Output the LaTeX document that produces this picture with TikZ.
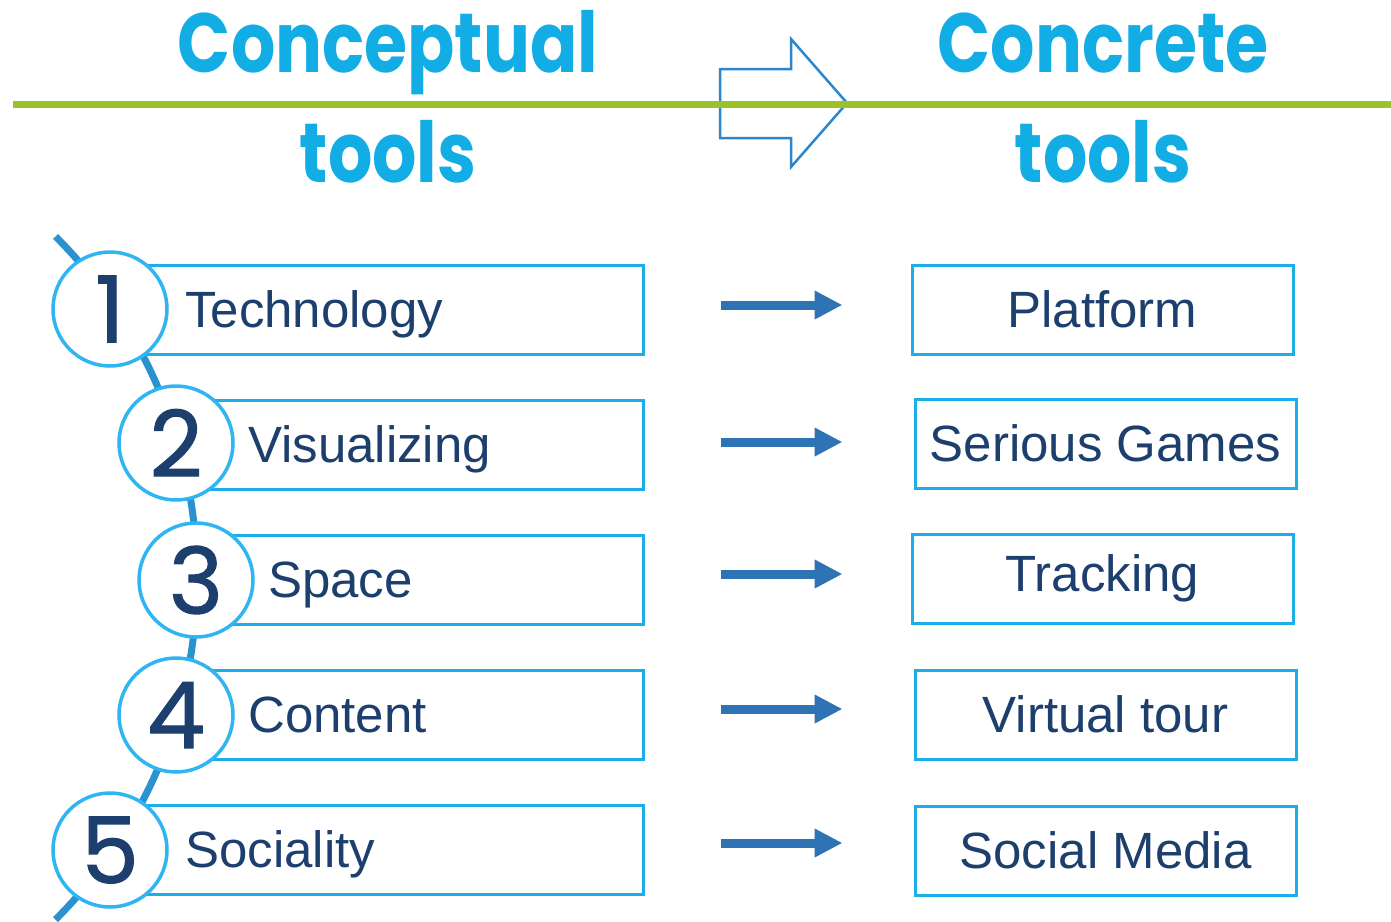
\documentclass[tikz,border=0pt]{standalone}
\usepackage{fontspec}
\usepackage{graphicx}
\setmainfont{Liberation Sans}
\newfontfamily\titlefont{Poppins}
\newfontfamily\numfont{Poppins}[FakeBold=1.2]
\usetikzlibrary{arrows.meta}
\definecolor{titlecyan}{HTML}{12ADE5}
\definecolor{linegreen}{HTML}{9BC22A}
\definecolor{hdrarrow}{HTML}{2B86CC}
\definecolor{boxline}{HTML}{1CAEE8}
\definecolor{circline}{HTML}{2FB6F2}
\definecolor{arcblue}{HTML}{2A93CF}
\definecolor{navy}{HTML}{1C3F6E}
\definecolor{arrblue}{HTML}{2E74B5}
\newcommand{\ttl}[1]{\scalebox{0.83}[1]{#1}}
\tikzset{
  titletext/.style={font=\titlefont\bfseries\fontsize{84}{84}\selectfont, text=titlecyan, anchor=base, inner sep=0},
  lbox/.style={draw=boxline, line width=3pt, fill=white, minimum height=89pt, inner sep=0, outer sep=0, anchor=east},
  rbox/.style={draw=boxline, line width=3pt, fill=white, minimum height=89pt, minimum width=381pt, inner sep=0,
    font=\fontsize{51}{51}\selectfont, text=navy},
  numcirc/.style={circle, draw=circline, line width=3.5pt, fill=white, minimum size=114pt, inner sep=0,
    font=\numfont\fontsize{92}{92}\selectfont, text=navy},
  ltext/.style={font=\fontsize{51}{51}\selectfont, text=navy, anchor=base west, inner sep=0},
  conn/.style={draw=arrblue, line width=9pt, -{Triangle[length=28pt, width=27pt]}},
}
\begin{document}
\begin{tikzpicture}[x=1pt, y=-1pt]
\useasboundingbox (0,0) rectangle (1391,921);
% header
\node[titletext] (t1) at (388,72) {\ttl{Conceptual}};
\node[titletext] (t2) at (388,182) {\ttl{tools}};
\node[titletext] (t3) at (1103,72) {\ttl{Concrete}};
\node[titletext] (t4) at (1103,182) {\ttl{tools}};
\draw[hdrarrow, line width=2.5pt, line join=miter]
  (720,69) -- (791,69) -- (791,39) -- (847,103) -- (791,167) -- (791,138) -- (720,138) -- cycle;
\draw[linegreen, line width=7pt] (13,104) -- (1391,104);
% arc
\draw[arcblue, line width=7pt] (-286,578) ++(45:483) arc[start angle=45, end angle=-45, radius=483];
% left boxes
\node[lbox, minimum width=533pt] (b1) at (643,309.5) {};
\node[lbox, minimum width=467pt] (b2) at (643,444.5) {};
\node[lbox, minimum width=447pt] (b3) at (643,579.5) {};
\node[lbox, minimum width=467pt] (b4) at (643,714.5) {};
\node[lbox, minimum width=533pt] (b5) at (643,849.5) {};
% circles
\node[numcirc] (c1) at (110,309) {1};
\node[numcirc] (c2) at (176,443) {2};
\node[numcirc] (c3) at (196,580) {3};
\node[numcirc] (c4) at (176,715) {4};
\node[numcirc] (c5) at (110,850) {5};
% left texts
\node[ltext] (l1) at (185,327) {Technology};
\node[ltext] (l2) at (248,462) {Visualizing};
\node[ltext] (l3) at (268,597) {Space};
\node[ltext] (l4) at (248,732) {Content};
\node[ltext] (l5) at (185,867) {Sociality};
% right boxes
\node[rbox] (r1) at (1102.5,309.5) {Platform};
\node[rbox] (r2) at (1105.5,443.5) {Serious Games};
\node[rbox] (r3) at (1102.5,578.5) {Tracking};
\node[rbox] (r4) at (1105.5,714.5) {Virtual tour};
\node[rbox] (r5) at (1105.5,850.5) {Social Media};
% arrows
\draw[conn] ([xshift=78pt, yshift=4.5pt]b1.east) -- ([xshift=-68pt, yshift=4.5pt]b1.east -| r1.west);
\draw[conn] ([xshift=78pt, yshift=2.5pt]b2.east) -- ([xshift=-71pt, yshift=2.5pt]b2.east -| r2.west);
\draw[conn] ([xshift=78pt, yshift=5.5pt]b3.east) -- ([xshift=-68pt, yshift=5.5pt]b3.east -| r3.west);
\draw[conn] ([xshift=78pt, yshift=5.5pt]b4.east) -- ([xshift=-71pt, yshift=5.5pt]b4.east -| r4.west);
\draw[conn] ([xshift=78pt, yshift=6.5pt]b5.east) -- ([xshift=-71pt, yshift=6.5pt]b5.east -| r5.west);
\end{tikzpicture}
\end{document}
